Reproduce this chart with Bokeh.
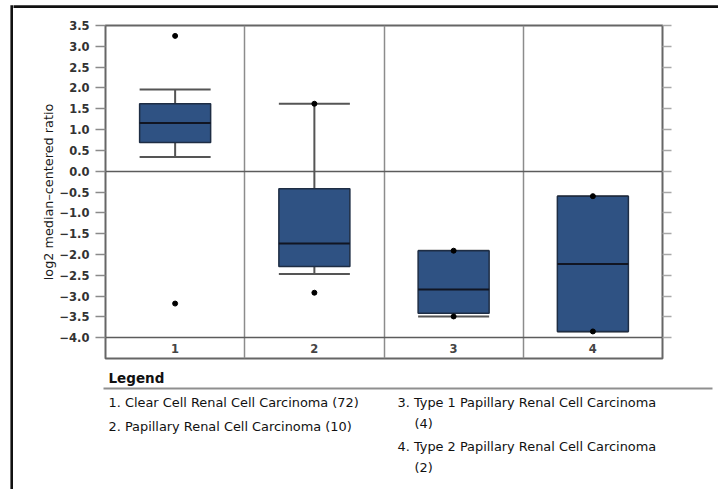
import numpy as np
from bokeh.plotting import figure
from bokeh.layouts import row, column
from bokeh.models import (ColumnDataSource, Range1d, LinearAxis, FixedTicker,
                          CustomJSTickFormatter, Grid)
from bokeh.core.properties import value
from bokeh.embed import file_html
from bokeh.resources import INLINE

# ---- data: log2 median-centered ratio per group ----
categories = ["1", "2", "3", "4"]
group_names = ["Clear Cell Renal Cell Carcinoma",
               "Papillary Renal Cell Carcinoma",
               "Type 1 Papillary Renal Cell Carcinoma",
               "Type 2 Papillary Renal Cell Carcinoma"]
group_counts = [72, 10, 4, 2]
whisker_low = [0.34, -2.47, -3.49, -3.85]   # 10th percentile
q1 = [0.69, -2.29, -3.41, -3.85]
median = [1.16, -1.74, -2.84, -2.23]
q3 = [1.62, -0.42, -1.91, -0.60]
whisker_high = [1.96, 1.62, -1.91, -0.60]   # 90th percentile
minimum = [-3.18, -2.92, -3.49, -3.85]
maximum = [3.25, 1.62, -1.91, -0.60]
y_ticks = [3.5, 3.0, 2.5, 2.0, 1.5, 1.0, 0.5, 0.0, -0.5, -1.0, -1.5,
           -2.0, -2.5, -3.0, -3.5, -4.0]

FONT = "DejaVu Sans"
BOX_FILL = "#2f5283"
BOX_LINE = "#1e2d44"
EDGE = "#111111"

TOP_H = 20          # strip holding the black top edge
CHART_H = 344       # box plot figure
LEG_H = 125         # legend block


def blank(width, height, x_range, y_range):
    """A bare figure used as a drawing surface in page-pixel coordinates."""
    f = figure(width=width, height=height, x_range=x_range, y_range=y_range,
               x_axis_type=None, y_axis_type=None, min_border=0,
               toolbar_location=None, output_backend="svg")
    f.outline_line_color = None
    f.background_fill_color = "white"
    f.border_fill_color = "white"
    f.xgrid.visible = False
    f.ygrid.visible = False
    return f


# ---- main box plot ----
pos = np.arange(1, len(categories) + 1, dtype=float)
half = 0.255
src = ColumnDataSource(dict(
    x=pos, x0=pos - half, x1=pos + half,
    wlo=whisker_low, q1=q1, med=median, q3=q3, whi=whisker_high,
    vmin=minimum, vmax=maximum,
))

chart = figure(width=705, height=CHART_H, x_range=Range1d(0.5, 4.5),
               y_range=Range1d(-4.5, 3.5), x_axis_type=None, y_axis_type=None,
               min_border_left=92, min_border_right=56, min_border_top=5,
               min_border_bottom=6, toolbar_location=None,
               output_backend="svg")
chart.background_fill_color = "white"
chart.border_fill_color = "white"
chart.outline_line_color = "#666666"
chart.outline_line_width = 2

# value axis on the left with labels, tick marks only on the right
left_axis = LinearAxis(
    ticker=FixedTicker(ticks=y_ticks),
    formatter=CustomJSTickFormatter(code="return tick.toFixed(1).replace('-', '\u2212')"),
    axis_label="log2 median\u2013centered ratio",
)
left_axis.axis_line_color = None
left_axis.major_tick_out = 10
left_axis.major_tick_in = 0
left_axis.major_tick_line_color = "#8a8a8a"
left_axis.major_tick_line_width = 1.5
left_axis.minor_tick_line_color = None
left_axis.major_label_standoff = 6
left_axis.major_label_text_font = FONT
left_axis.major_label_text_font_style = "bold"
left_axis.major_label_text_font_size = "11.5px"
left_axis.major_label_text_color = "#333333"
left_axis.axis_label_standoff = 0
left_axis.axis_label_text_font = FONT
left_axis.axis_label_text_font_style = "normal"
left_axis.axis_label_text_font_size = "12.8px"
left_axis.axis_label_text_color = "#1a1a1a"
chart.add_layout(left_axis, "left")

right_axis = LinearAxis(ticker=FixedTicker(ticks=y_ticks),
                        formatter=CustomJSTickFormatter(code="return ''"))
right_axis.axis_line_color = None
right_axis.major_tick_out = 9
right_axis.major_tick_in = 0
right_axis.major_tick_line_color = "#a8a8a8"
right_axis.major_tick_line_width = 1.5
right_axis.minor_tick_line_color = None
right_axis.major_label_text_font_size = "0px"
chart.add_layout(right_axis, "right")

# column dividers and the zero / floor lines
chart.add_layout(Grid(dimension=0, ticker=FixedTicker(ticks=list(pos[:-1] + 0.5)),
                      grid_line_color="#8c8c8c", grid_line_width=1.5))
chart.add_layout(Grid(dimension=1, ticker=FixedTicker(ticks=[0.0, y_ticks[-1]]),
                      grid_line_color="#5c5c5c", grid_line_width=1.5))

# whiskers and caps
for a, b in (("q3", "whi"), ("wlo", "q1")):
    chart.segment(x0="x", x1="x", y0=a, y1=b, source=src,
                  line_color="#555555", line_width=2)
for c in ("whi", "wlo"):
    chart.segment(x0="x0", x1="x1", y0=c, y1=c, source=src,
                  line_color="#555555", line_width=2)

# boxes and medians
chart.vbar(x="x", width=2 * half, bottom="q1", top="q3", source=src,
           fill_color=BOX_FILL, line_color=BOX_LINE, line_width=1.5)
chart.segment(x0="x0", x1="x1", y0="med", y1="med", source=src,
              line_color="#111522", line_width=2)

# minimum / maximum points
chart.scatter(x="x", y="vmin", source=src, size=5, color="black")
chart.scatter(x="x", y="vmax", source=src, size=5, color="black")

# group numbers in the strip beneath the value range
label_y = (y_ticks[-1] + chart.y_range.start) / 2
chart.text(x=pos, y=[label_y] * len(pos), text=categories,
           text_font=value(FONT), text_font_style="bold",
           text_font_size="11.5px", text_color="#444444",
           text_align="center", text_baseline="middle")

# ---- legend block (page-pixel coordinates) ----
leg_top = TOP_H + CHART_H
leg = blank(705, LEG_H, Range1d(13, 718), Range1d(leg_top + LEG_H, leg_top))
leg.text(x=[108], y=[377.5], text=["Legend"], text_font=value(FONT),
         text_font_style="bold", text_font_size="13.5px", text_color="#111111",
         text_baseline="alphabetic")
leg.segment(x0=[103], x1=[712], y0=[388], y1=[388], line_color="#8f8f8f",
            line_width=2)

lines, lx, ly = [], [], []
col_x = [108, 108, 397, 397]
row_y = [402, 426, 402, 446]
for i, (name, n) in enumerate(zip(group_names, group_counts)):
    if i < 2:
        lines.append(f"{i + 1}. {name} ({n})")
        lx.append(col_x[i]); ly.append(row_y[i])
    else:
        lines.append(f"{i + 1}. {name}")
        lx.append(col_x[i]); ly.append(row_y[i])
        lines.append(f"({n})")
        lx.append(col_x[i] + 17); ly.append(row_y[i] + 20.5)
leg.text(x=lx, y=ly, text=lines, text_font=value(FONT),
         text_font_size="12.9px", text_color="#111111",
         text_baseline="alphabetic")

# ---- black page edges (top and left) ----
edge_left = blank(13, TOP_H + CHART_H + LEG_H, Range1d(0, 13),
                  Range1d(TOP_H + CHART_H + LEG_H, 0))
edge_left.segment(x0=[11.2], x1=[11.2], y0=[4.8], y1=[TOP_H + CHART_H + LEG_H],
                  line_color=EDGE, line_width=2.6)

edge_top = blank(705, TOP_H, Range1d(13, 718), Range1d(TOP_H, 0))
edge_top.segment(x0=[12], x1=[718], y0=[6.1], y1=[6.1], line_color=EDGE,
                 line_width=2.6)

# each piece sits in its own row so the plot frames are laid out independently
layout = row(edge_left, column(row(edge_top), row(chart), row(leg)))

with open("out.html", "w") as f:
    f.write(file_html(layout, INLINE))
